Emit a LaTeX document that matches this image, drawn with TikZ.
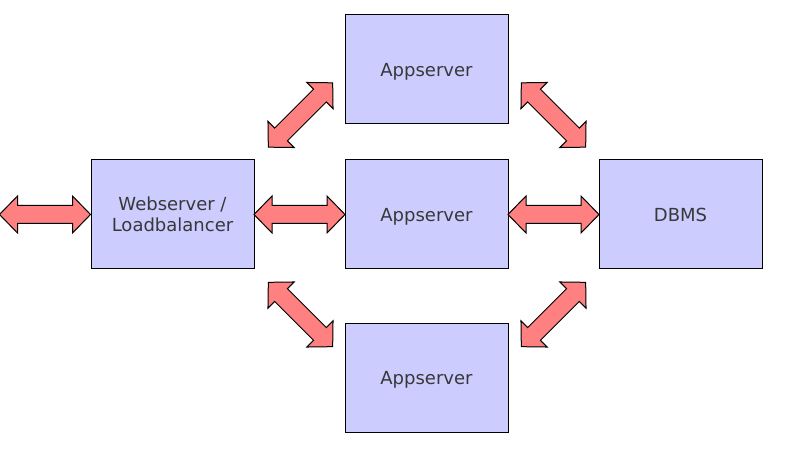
\documentclass[tikz,border=0pt]{standalone}
\usepackage{fontspec}
\setmainfont{DejaVu Sans}
\usetikzlibrary{calc}
\definecolor{boxfill}{HTML}{CCCCFF}
\definecolor{arrfill}{HTML}{FF8080}
\definecolor{txt}{HTML}{383838}
\tikzset{
  server/.style={draw=black, line width=1pt, fill=boxfill, minimum width=163pt, minimum height=109pt,
    inner sep=0pt, text=txt, align=center,
    font=\fontsize{18pt}{21pt}\selectfont},
  oneline/.style={server, text height=13.1pt, text depth=0pt},
  blockarrow/.style={draw=black, line width=1pt, fill=arrfill, line join=miter}
}
\newcommand{\dblarrow}[2]{%
  \begin{scope}[shift={(#1)}, rotate=#2]
    \draw[blockarrow] (-45.5,0) -- (-27.5,18.5) -- (-27.5,9) -- (27.5,9) -- (27.5,18.5)
      -- (45.5,0) -- (27.5,-18.5) -- (27.5,-9) -- (-27.5,-9) -- (-27.5,-18.5) -- cycle;
  \end{scope}}
\begin{document}
\begin{tikzpicture}[x=1pt, y=-1pt]
\useasboundingbox (0,0) rectangle (800,470);
\node[server] (web) at (172.5,214.5) {Webserver /\\Loadbalancer};
\node[oneline] (app1) at (426.5,69.5) {Appserver};
\node[oneline] (app2) at (426.5,214.5) {Appserver};
\node[oneline] (app3) at (426.5,377.5) {Appserver};
\node[oneline] (db) at (680.5,214.5) {DBMS};
% arrow centres
\coordinate (aIn) at ($(web.west)+(-45.5,0)$);
\coordinate (aWA) at ($(web.east)!0.5!(app2.west)$);
\coordinate (aAD) at ($(app2.east)!0.5!(db.west)$);
\coordinate (aW1) at (300.5,115);
\coordinate (a1D) at (553.5,115);
\coordinate (aW3) at (300.5,314.5);
\coordinate (a3D) at (553.5,314.5);
\dblarrow{aIn}{0}
\dblarrow{aWA}{0}
\dblarrow{aAD}{0}
\dblarrow{aW1}{45}
\dblarrow{a1D}{-45}
\dblarrow{aW3}{-45}
\dblarrow{a3D}{45}
\end{tikzpicture}
\end{document}
